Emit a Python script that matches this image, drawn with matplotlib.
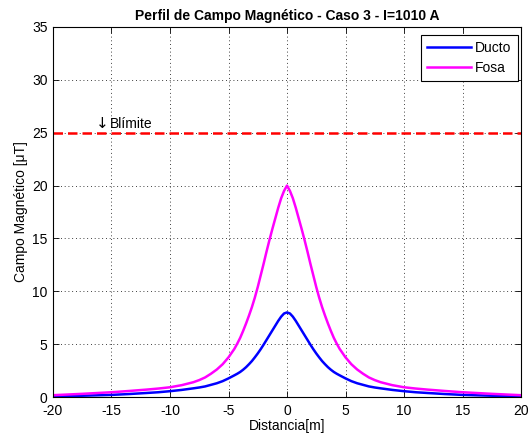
import matplotlib
matplotlib.use("Agg")
import matplotlib.pyplot as plt

plt.rcParams['font.family'] = ['Liberation Sans', 'DejaVu Sans']
plt.rcParams['axes.unicode_minus'] = False

# Data
dist = [-20, -17.5, -15, -13.5, -12, -11, -10, -9, -8, -7.5, -7, -6.5, -6, -5.5, -5, -4.5, -4.25, -4,
        -3.75, -3.5, -3.25, -3, -2.75, -2.5, -2.25, -2, -1.75, -1.5, -1.25, -1, -0.75, -0.5, -0.25, 0,
        0.25, 0.5, 0.75, 1, 1.25, 1.5, 1.75, 2, 2.25, 2.5, 2.75, 3, 3.25, 3.5, 3.75,
        4, 4.25, 4.5, 5, 5.5, 6, 6.5, 7, 7.5, 8, 9, 10, 11, 12, 13.5, 15, 17.5, 20]
ducto = [0.06, 0.12, 0.2, 0.28, 0.38, 0.45, 0.55, 0.67, 0.82, 0.9, 1.0, 1.15, 1.3, 1.5, 1.76, 2.05, 2.2, 2.37,
         2.58, 2.82, 3.1, 3.4, 3.75, 4.12, 4.52, 4.95, 5.4, 5.85, 6.3, 6.75, 7.2, 7.6, 7.9, 8.0,
         7.9, 7.6, 7.2, 6.75, 6.3, 5.85, 5.4, 4.95, 4.52, 4.12, 3.75, 3.4, 3.1, 2.82, 2.58,
         2.37, 2.2, 2.05, 1.76, 1.5, 1.3, 1.15, 1.0, 0.9, 0.82, 0.67, 0.55, 0.45, 0.38, 0.28, 0.2, 0.12, 0.06]
fosa = [0.17, 0.3, 0.45, 0.57, 0.7, 0.8, 0.92, 1.12, 1.4, 1.6, 1.85, 2.2, 2.6, 3.1, 3.75, 4.55, 5.05, 5.6,
        6.25, 6.95, 7.7, 8.5, 9.4, 10.4, 11.5, 12.6, 13.75, 14.85, 15.9, 16.9, 17.9, 18.8, 19.5, 20.0,
        19.5, 18.8, 17.9, 16.9, 15.9, 14.85, 13.75, 12.6, 11.5, 10.4, 9.4, 8.5, 7.7, 6.95, 6.25,
        5.6, 5.05, 4.55, 3.75, 3.1, 2.6, 2.2, 1.85, 1.6, 1.4, 1.12, 0.92, 0.8, 0.7, 0.57, 0.45, 0.3, 0.17]
b_limite = 25
series_names = ['Ducto', 'Fosa']
xticks = [-20, -15, -10, -5, 0, 5, 10, 15, 20]
yticks = [0, 5, 10, 15, 20, 25, 30, 35]

fig = plt.figure(figsize=(5.32, 4.4), dpi=100)
ax = fig.add_axes([53/532, 43/440, 468/532, 370/440])

ax.plot(dist, ducto, color='#0000ff', lw=1.8, label=series_names[0])
ax.plot(dist, fosa, color='#ff00ff', lw=1.8, label=series_names[1])
ax.axhline(b_limite, color='#ff0000', lw=1.8, linestyle=(0, (3.8, 2.0)))
ax.text(-16.35, b_limite + 0.2, '\u2193', fontsize=11, va='bottom', ha='left', family='DejaVu Sans')
ax.text(-15.15, b_limite + 0.2, 'Blímite', fontsize=10, va='bottom', ha='left')

ax.set_xlim(-20, 20)
ax.set_ylim(0, 35)
ax.set_xticks(xticks)
ax.set_yticks(yticks)
ax.tick_params(direction='in', top=True, right=True, labelsize=10, length=4, width=0.6)
ax.tick_params(axis='x', pad=5)
ax.tick_params(axis='y', pad=4)
ax.grid(True, color='black', linestyle=(0, (1, 3.5)), lw=0.6)
for s in ax.spines.values():
    s.set_linewidth(0.8)

ax.set_xlabel('Distancia[m]', fontsize=10, labelpad=1)
ax.set_ylabel('Campo Magnético [\u03bcT]', fontsize=10, labelpad=3)
ax.set_title('Perfil de Campo Magnético - Caso 3 - I=1010 A', fontsize=10, fontweight='bold', pad=5)

leg = ax.legend(loc='upper right', bbox_to_anchor=((518-53)/468, (397-35)/370), borderaxespad=0,
                fancybox=False, edgecolor='black', framealpha=1, fontsize=10, handlelength=3.2,
                handletextpad=0.3, borderpad=0.45, labelspacing=0.4)
leg.get_frame().set_linewidth(0.8)

fig.savefig('out.png', dpi=100)
